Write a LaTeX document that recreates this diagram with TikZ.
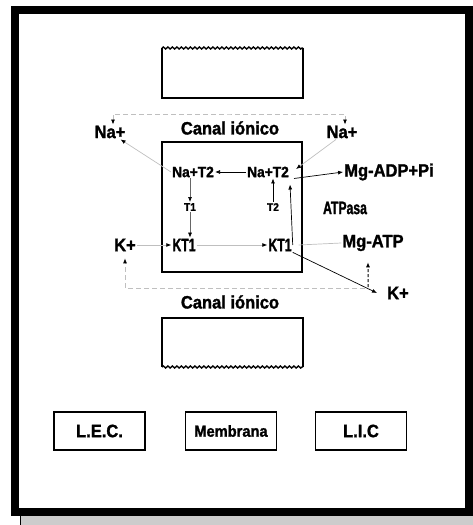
\documentclass[tikz,border=0pt]{standalone}
\usepackage{fontspec}
\setmainfont{Liberation Sans}[FakeStretch=0.92, BoldFeatures={FakeBold=1.5}]
\newfontfamily\narrowfont{Liberation Sans}[FakeStretch=0.68, BoldFeatures={FakeBold=1.5}]
\usetikzlibrary{arrows.meta}
\usetikzlibrary{decorations.pathmorphing}
\definecolor{lightline}{gray}{0.75}
\definecolor{shadowgray}{gray}{0.8}
\tikzset{
  lbl/.style={font=\bfseries\fontsize{18}{18}\selectfont, inner sep=1bp},
  nlbl/.style={font=\narrowfont\bfseries\fontsize{18}{18}\selectfont, inner sep=1bp},
  midlbl/.style={font=\bfseries\fontsize{15}{15}\selectfont, inner sep=1bp},
  tlbl/.style={font=\bfseries\fontsize{11}{11}\selectfont, inner sep=1bp},
  zonebox/.style={draw, line width=1.5bp, minimum width=91bp, minimum height=38bp, inner sep=0pt},
  chan/.style={line width=1.4bp},
  wavy/.style={decorate, decoration={snake, amplitude=1bp, segment length=4.5bp}},
  thin line/.style={line width=0.7bp},
  dashline/.style={lightline, line width=0.8bp, dash pattern=on 5bp off 3bp},
}
\begin{document}
\begin{tikzpicture}[x=1bp, y=-1bp, >={Latex[length=5bp, width=4bp, color=black]}]
\useasboundingbox (0,0) rectangle (473,525);
% frame and shadow
\fill[shadowgray] (20,516) rectangle (473,525);
\draw[line width=1bp] (20.5,516) -- (20.5,525);
\draw[line width=8bp] (15,10) rectangle (469,512);

% ion channels
\draw[chan] (162,48) -- (162,98) -- (303,98) -- (303,48);
\draw[chan, wavy] (162,48) -- (303,48);
\draw[chan] (162,367) -- (162,318) -- (303,318) -- (303,367);
\draw[chan, wavy] (162,367) -- (303,367);

% ATPase square
\draw[line width=2bp] (162,142) rectangle (302,272);

\node[lbl] (canalA) at (230,128) {Canal iónico};
\node[lbl] (canalB) at (230,302) {Canal iónico};
\node[lbl] (naE) at (110,132) {Na+};
\node[lbl] (naI) at (342,132) {Na+};
\node[midlbl] (natE) at (193,172) {Na+T2};
\node[midlbl] (natI) at (268,172) {Na+T2};
\node[tlbl] (tuno) at (190,207) {T1};
\node[tlbl] (tdos) at (273,207) {T2};
\node[nlbl] (ktE) at (184,245) {KT1};
\node[nlbl] (ktI) at (280,245) {KT1};
\node[lbl] (kE) at (125,245) {K+};
\node[lbl] (kI) at (398,293) {K+};
\node[lbl] (mgadp) at (389,172) {Mg-ADP+Pi};
\node[nlbl] (atpasa) at (345,208) {ATPasa};
\node[lbl] (mgatp) at (373,243) {Mg-ATP};

\node[zonebox, font=\bfseries\fontsize{18}{18}\selectfont] (lec) at (99.5,431) {L.E.C.};
\node[zonebox, font=\bfseries\fontsize{16}{16}\selectfont] (memb) at (231,431) {Membrana};
\node[zonebox, font=\bfseries\fontsize{18}{18}\selectfont] (lic) at (361,431) {L.I.C};

\coordinate (dtop) at (230,114);
\coordinate (dbot) at (365,288);
\coordinate (kdash) at (368,287);

% cycle inside the pump
\draw[->, thin line] (natI) -- (natE);
\draw[->, thin line, black!60] (natE.south -| tuno) -- (tuno);
\draw[->, thin line, black!60] (tuno) -- (tuno |- ktE.north);
\draw[->, thin line] (tdos) -- (tdos |- natI.south);
\draw[->, thin line, lightline] (ktE) -- (ktI);
\draw[->, thin line, lightline] (kE) -- (ktE);
\draw[->, thin line, lightline] (natE.west) -- ([xshift=-6bp]naE.south east);
\draw[->, thin line, lightline] ([xshift=-6bp]naI.south) -- ([xshift=6bp,yshift=3bp]natI.east);
\draw[->, thin line] ([xshift=4bp]natI.south east) -- (mgadp.west);
\draw[->, thin line] (ktI.east) -- ([yshift=-6bp]natI.south east);
\draw[thin line, lightline] ([xshift=6bp]ktI.east) -- (mgatp.west);
\draw[->, thin line] (ktI.south east) -- ([xshift=-9bp]kI.west);
\draw[->, line width=1bp, dash pattern=on 3bp off 2bp] (kdash) -- ([xshift=-5bp,yshift=-10bp]mgatp.south);

% leak paths
\draw[<->, dashline] ([xshift=3bp]naE.north) |- (dtop) -| ([xshift=3bp]naI.north);
\draw[->, dashline] (dbot) -| ([yshift=-6bp]kE.south);
\end{tikzpicture}
\end{document}
